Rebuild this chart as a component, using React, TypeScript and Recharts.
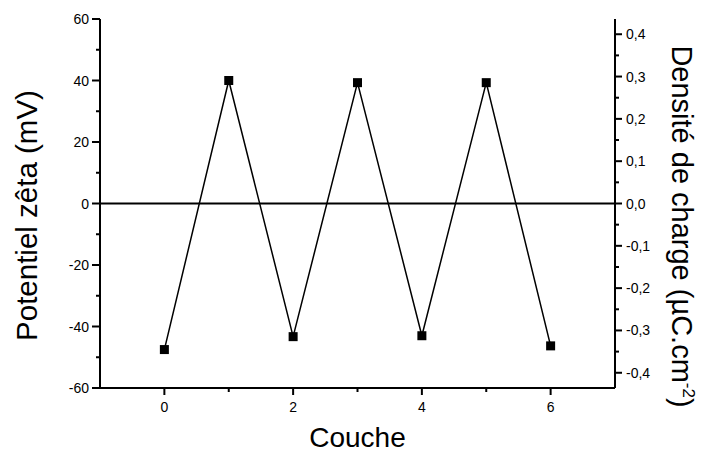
import React from 'react';
import { LineChart, Line, XAxis, YAxis, ReferenceLine, Label } from 'recharts';

// Zeta potential measured after each deposited layer
const layers = [0, 1, 2, 3, 4, 5, 6];
const zeta = [-47.5, 40, -43.3, 39.3, -43, 39.3, -46.3];

// Axis tick values (major ticks carry labels, minor ticks are short marks)
const zetaMajor = [-60, -40, -20, 0, 20, 40, 60];
const zetaMinor = [-50, -30, -10, 10, 30, 50];
const chargeMajor = [-0.4, -0.3, -0.2, -0.1, 0, 0.1, 0.2, 0.3, 0.4];
const chargeMinor = [-0.35, -0.25, -0.15, -0.05, 0.05, 0.15, 0.25, 0.35];
const layerMajor = [0, 2, 4, 6];
const layerMinor = [1, 3, 5];

const layerDomain = [-1, 7];
const zetaDomain = [-60, 60];
const chargeDomain = [-0.436, 0.436];

const data = layers.map((c, i) => ({ couche: c, zeta: zeta[i] }));

const FONT = '"Liberation Sans", Arial, Helvetica, sans-serif';
const INK = '#000';

const sorted = (a: number[], b: number[]) => [...a, ...b].sort((p, q) => p - q);

const fmtComma = (v: number) => {
  const s = Math.abs(v).toFixed(1).replace('.', ',');
  return v < -1e-9 ? '-' + s : s;
};

const LeftTick = (props: any) => {
  const { x, y, payload } = props;
  const major = zetaMajor.includes(payload.value);
  return (
    <g>
      <line x1={x - (major ? 8 : 4)} x2={x} y1={y} y2={y} stroke={INK} strokeWidth={2} />
      {major && (
        <text x={x - 11} y={y + 5} textAnchor="end" fontSize={14} fontFamily={FONT} fill={INK}>
          {String(payload.value)}
        </text>
      )}
    </g>
  );
};

const RightTick = (props: any) => {
  const { x, y, payload } = props;
  const major = chargeMajor.includes(payload.value);
  return (
    <g>
      <line x1={x} x2={x + (major ? 7 : 4)} y1={y} y2={y} stroke={INK} strokeWidth={2} />
      {major && (
        <text x={x + 11} y={y + 5} textAnchor="start" fontSize={14} fontFamily={FONT} fill={INK}>
          {fmtComma(payload.value)}
        </text>
      )}
    </g>
  );
};

const BottomTick = (props: any) => {
  const { x, y, payload } = props;
  const major = layerMajor.includes(payload.value);
  return (
    <g>
      <line x1={x} x2={x} y1={y} y2={y + (major ? 7 : 4)} stroke={INK} strokeWidth={2} />
      {major && (
        <text x={x} y={y + 24} textAnchor="middle" fontSize={14} fontFamily={FONT} fill={INK}>
          {String(payload.value)}
        </text>
      )}
    </g>
  );
};

const TopTick = (props: any) => {
  const { x, y, payload } = props;
  const major = layerMajor.includes(payload.value);
  return <line x1={x} x2={x} y1={y} y2={y + (major ? 7 : 4)} stroke={INK} strokeWidth={2} />;
};

const SquareDot = (props: any) => {
  const { cx, cy, index } = props;
  return <rect key={`sq-${index}`} x={cx - 4.5} y={cy - 4.5} width={9} height={9} fill={INK} />;
};

const LeftTitle = (props: any) => {
  const vb = props.viewBox;
  const x = vb.x + 37;
  const y = vb.y + vb.height / 2 + 12;
  return (
    <text x={x} y={y} transform={`rotate(-90, ${x}, ${y})`} textAnchor="middle" fontSize={29.5} fontFamily={FONT} fill={INK}>
      Potentiel zêta (mV)
    </text>
  );
};

const RightTitle = (props: any) => {
  const vb = props.viewBox;
  const x = vb.x + 57;
  const y = vb.y + vb.height / 2 + 23;
  return (
    <text x={x} y={y} transform={`rotate(90, ${x}, ${y})`} textAnchor="middle" fontSize={29} fontFamily={FONT} fill={INK}>
      <tspan>Densité de charge (µC.cm</tspan>
      <tspan dy={-11} fontSize={17}>-2</tspan>
      <tspan dy={11}>)</tspan>
    </text>
  );
};

const BottomTitle = (props: any) => {
  const vb = props.viewBox;
  return (
    <text x={vb.x + vb.width / 2} y={vb.y + 59} textAnchor="middle" fontSize={28} fontFamily={FONT} fill={INK}>
      Couche
    </text>
  );
};

export default function App() {
  return (
    <div style={{ position: 'absolute', left: 0, top: 0, width: 704, height: 454, background: '#fff' }}>
      <LineChart width={704} height={454} data={data} margin={{ top: 19, right: 0, bottom: 0, left: 0 }}>
        <XAxis
          xAxisId="bottom"
          type="number"
          dataKey="couche"
          domain={layerDomain}
          ticks={sorted(layerMajor, layerMinor)}
          interval={0}
          height={66}
          tickSize={0}
          tickMargin={0}
          tickLine={false}
          axisLine={{ stroke: INK, strokeWidth: 2 }}
          tick={<BottomTick />}
        >
          <Label content={<BottomTitle />} />
        </XAxis>
        <XAxis
          xAxisId="top"
          orientation="top"
          type="number"
          domain={layerDomain}
          ticks={sorted(layerMajor, layerMinor)}
          interval={0}
          height={0}
          mirror
          tickSize={0}
          tickMargin={0}
          tickLine={false}
          axisLine={{ stroke: INK, strokeWidth: 2 }}
          tick={<TopTick />}
        />
        <YAxis
          yAxisId="left"
          type="number"
          domain={zetaDomain}
          ticks={sorted(zetaMajor, zetaMinor)}
          interval={0}
          width={100}
          tickSize={0}
          tickMargin={0}
          tickLine={false}
          axisLine={{ stroke: INK, strokeWidth: 2 }}
          tick={<LeftTick />}
        >
          <Label content={<LeftTitle />} />
        </YAxis>
        <YAxis
          yAxisId="right"
          orientation="right"
          type="number"
          domain={chargeDomain}
          allowDataOverflow
          ticks={sorted(chargeMajor, chargeMinor)}
          interval={0}
          width={89}
          tickSize={0}
          tickMargin={0}
          tickLine={false}
          axisLine={{ stroke: INK, strokeWidth: 2 }}
          tick={<RightTick />}
        >
          <Label content={<RightTitle />} />
        </YAxis>
        <ReferenceLine xAxisId="bottom" yAxisId="left" y={0} stroke={INK} strokeWidth={2} />
        <Line
          xAxisId="bottom"
          yAxisId="left"
          type="linear"
          dataKey="zeta"
          stroke={INK}
          strokeWidth={1.5}
          dot={SquareDot}
          activeDot={false}
          isAnimationActive={false}
        />
      </LineChart>
    </div>
  );
}
